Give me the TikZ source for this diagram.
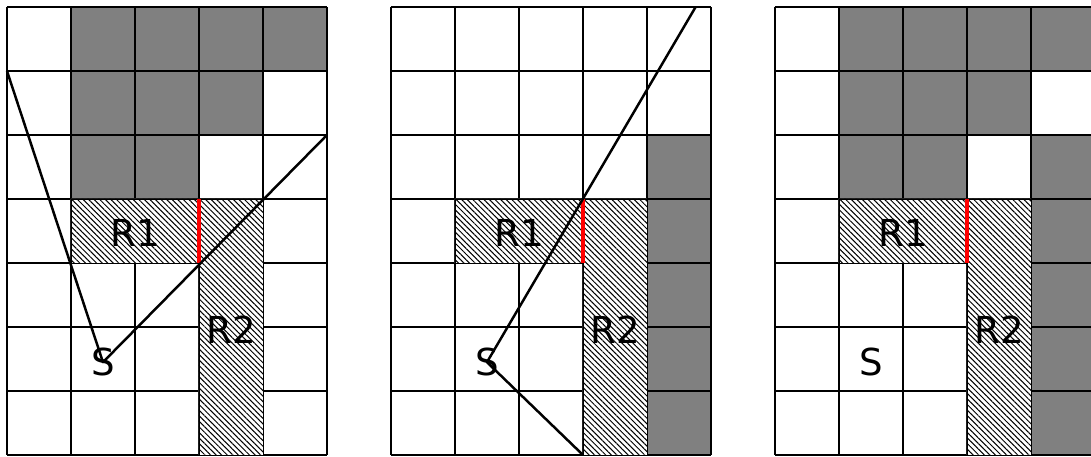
\documentclass[tikz,border=0pt]{standalone}
\usepackage{fontspec}
\setmainfont{DejaVu Sans}
\usetikzlibrary{patterns.meta}

\tikzset{
  cellgrid/.style={line width=0.9pt, black},
  wall/.style={fill=black!50},
  hatched/.style={preaction={fill=white}, pattern={Lines[angle=-45,distance=1.75pt,line width=0.45pt]}},
  hatchrim/.style={line width=0.4pt, black},
  cutline/.style={line width=2pt, red},
  ray/.style={line width=1.1pt, black, line join=round},
  tag/.style={inner sep=0pt, font=\fontsize{16.5}{18}\selectfont}
}

\begin{document}
\begin{tikzpicture}
  \useasboundingbox (-0.109,-7.016) rectangle (16.938,0.109);

  % first panel
  \begin{scope}
    \foreach \c/\r in {1/0,2/0,3/0,4/0,1/1,2/1,3/1,1/2,2/2}
      \fill[wall] (\c,-\r) rectangle ++(1,-1);
    \draw[cellgrid] (0,-7) grid (5,0);
    \fill[hatched] (1,-3) -- (4,-3) -- (4,-7) -- (3,-7) -- (3,-4) -- (1,-4) -- cycle;
    \draw[hatchrim] (1,-3) -- (4,-3) -- (4,-7) -- (3,-7) -- (3,-4) -- (1,-4) -- cycle;
    \draw[cutline] (3,-3) -- (3,-4);
    \node[tag] (R1a) at (2,-3.53) {R1};
    \node[tag] (R2a) at (3.5,-5.05) {R2};
    \node[tag] (S1) at (1.5,-5.55) {S};
    \coordinate (A1) at (0,-1);
    \coordinate (B1) at (5,-2);
    \draw[ray] (A1) -- (S1.center) -- (B1);
  \end{scope}

  % second panel
  \begin{scope}[xshift=6cm]
    \foreach \r in {2,...,6}
      \fill[wall] (4,-\r) rectangle ++(1,-1);
    \draw[cellgrid] (0,-7) grid (5,0);
    \fill[hatched] (1,-3) -- (4,-3) -- (4,-7) -- (3,-7) -- (3,-4) -- (1,-4) -- cycle;
    \draw[hatchrim] (1,-3) -- (4,-3) -- (4,-7) -- (3,-7) -- (3,-4) -- (1,-4) -- cycle;
    \draw[cutline] (3,-3) -- (3,-4);
    \node[tag] (R1b) at (2,-3.53) {R1};
    \node[tag] (R2b) at (3.5,-5.05) {R2};
    \node[tag] (S2) at (1.5,-5.55) {S};
    \coordinate (A2) at (4.76,0);
    \coordinate (B2) at (3,-7);
    \draw[ray] (A2) -- (S2.center) -- (B2);
  \end{scope}

  % third panel
  \begin{scope}[xshift=12cm]
    \foreach \c/\r in {1/0,2/0,3/0,4/0,1/1,2/1,3/1,1/2,2/2,4/2,4/3,4/4,4/5,4/6}
      \fill[wall] (\c,-\r) rectangle ++(1,-1);
    \draw[cellgrid] (0,-7) grid (5,0);
    \fill[hatched] (1,-3) -- (4,-3) -- (4,-7) -- (3,-7) -- (3,-4) -- (1,-4) -- cycle;
    \draw[hatchrim] (1,-3) -- (4,-3) -- (4,-7) -- (3,-7) -- (3,-4) -- (1,-4) -- cycle;
    \draw[cutline] (3,-3) -- (3,-4);
    \node[tag] (R1c) at (2,-3.53) {R1};
    \node[tag] (R2c) at (3.5,-5.05) {R2};
    \node[tag] (S3) at (1.5,-5.55) {S};
  \end{scope}
\end{tikzpicture}
\end{document}
